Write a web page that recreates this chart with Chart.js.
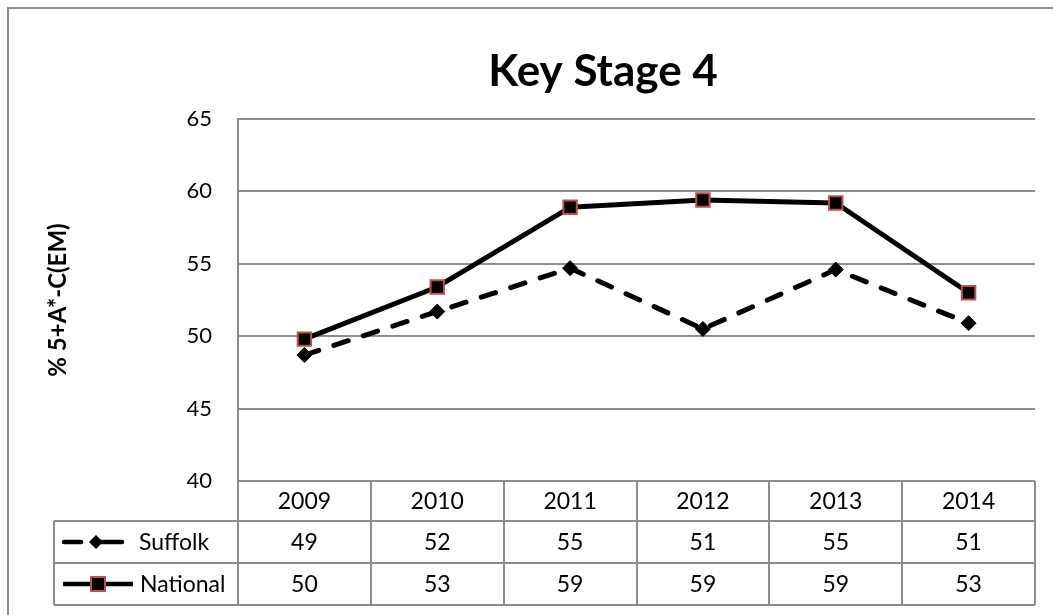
<!DOCTYPE html>
<html><head><meta charset="utf-8">
<script src="https://cdn.jsdelivr.net/npm/chart.js@4/dist/chart.umd.min.js"></script>
<style>html,body{margin:0;padding:0;background:#fff;overflow:hidden}#wrap{width:1053px;height:615px;position:relative}</style>
</head><body><div id="wrap"><canvas id="c" width="1053" height="615"></canvas></div>
<script>
const categories = ['2009', '2010', '2011', '2012', '2013', '2014'];
const suffolkValues = [48.7, 51.7, 54.7, 50.5, 54.6, 50.9];
const nationalValues = [49.8, 53.4, 58.9, 59.4, 59.2, 53.0];
const suffolkTable = [49, 52, 55, 51, 55, 51];
const nationalTable = [50, 53, 59, 59, 59, 53];
const seriesNames = ['Suffolk', 'National'];
const yTicks = [40, 45, 50, 55, 60, 65];
const chartTitle = 'Key Stage 4';
const yAxisTitle = '% 5+A*-C(EM)';

const FONT = 'Lato, "Open Sans", sans-serif';
const GRID = '#8c8c8c';
const RED = '#c0504d';

const framePlugin = {
  id: 'framePlugin',
  beforeDraw(chart) {
    const ctx = chart.ctx;
    ctx.save();
    ctx.fillStyle = '#fff';
    ctx.fillRect(0, 0, chart.width, chart.height);
    ctx.strokeStyle = GRID;
    ctx.lineWidth = 2;
    ctx.beginPath();
    ctx.moveTo(8, chart.height);
    ctx.lineTo(8, 8);
    ctx.lineTo(chart.width, 8);
    ctx.stroke();
    ctx.fillStyle = '#000';
    ctx.font = 'bold 44px ' + FONT;
    ctx.textAlign = 'center';
    ctx.textBaseline = 'alphabetic';
    ctx.fillText(chartTitle, 603, 86);
    ctx.restore();
  },
  afterDraw(chart) {
    const ctx = chart.ctx;
    const a = chart.chartArea;
    const xs = chart.scales.x;
    const n = categories.length;
    const colW = (a.right - a.left) / n;
    const rows = [a.bottom, 521, 563, 605];
    const tableLeft = 54;
    ctx.save();
    ctx.strokeStyle = GRID;
    ctx.lineWidth = 2;
    ctx.beginPath();
    ctx.moveTo(a.left, rows[0]); ctx.lineTo(a.right, rows[0]);
    for (let r = 1; r < rows.length; r++) { ctx.moveTo(tableLeft, rows[r]); ctx.lineTo(a.right, rows[r]); }
    ctx.moveTo(tableLeft, rows[1]); ctx.lineTo(tableLeft, rows[3]);
    for (let i = 0; i <= n; i++) {
      const x = Math.round(a.left + i * colW);
      ctx.moveTo(x, rows[0]); ctx.lineTo(x, rows[3]);
    }
    ctx.stroke();

    ctx.fillStyle = '#000';
    ctx.font = '23px ' + FONT;
    ctx.textAlign = 'center';
    ctx.textBaseline = 'middle';
    categories.forEach((c, i) => {
      const x = xs.getPixelForValue(i);
      ctx.fillText(c, x, (rows[0] + rows[1]) / 2 + 1);
      ctx.fillText(String(suffolkTable[i]), x, (rows[1] + rows[2]) / 2 + 1);
      ctx.fillText(String(nationalTable[i]), x, (rows[2] + rows[3]) / 2 + 1);
    });

    // legend keys
    const y1 = (rows[1] + rows[2]) / 2;
    const y2 = (rows[2] + rows[3]) / 2;
    ctx.strokeStyle = '#000';
    ctx.lineWidth = 4.5;
    ctx.lineCap = 'round';
    ctx.beginPath();
    ctx.moveTo(64, y1); ctx.lineTo(81, y1);
    ctx.moveTo(100, y1); ctx.lineTo(122, y1);
    ctx.stroke();
    ctx.fillStyle = '#000';
    ctx.beginPath();
    ctx.moveTo(96, y1 - 7); ctx.lineTo(103, y1); ctx.lineTo(96, y1 + 7); ctx.lineTo(89, y1); ctx.closePath();
    ctx.fill();
    ctx.lineCap = 'butt';
    ctx.beginPath();
    ctx.moveTo(63, y2); ctx.lineTo(133, y2);
    ctx.stroke();
    ctx.fillStyle = '#000';
    ctx.fillRect(91, y2 - 7, 14, 14);
    ctx.strokeStyle = RED;
    ctx.lineWidth = 2;
    ctx.strokeRect(91, y2 - 7, 14, 14);

    ctx.fillStyle = '#000';
    ctx.textAlign = 'left';
    ctx.fillText(seriesNames[0], 139, y1 + 1);
    ctx.fillText(seriesNames[1], 140, y2 + 1);
    ctx.restore();
  }
};

new Chart(document.getElementById('c'), {
  type: 'line',
  data: {
    labels: categories,
    datasets: [
      {
        label: seriesNames[0],
        data: suffolkValues,
        borderColor: '#000',
        backgroundColor: '#000',
        borderWidth: 5,
        borderDash: [15, 16],
        borderCapStyle: 'round',
        borderJoinStyle: 'round',
        pointStyle: 'rectRot',
        pointRadius: 7.5,
        pointBorderWidth: 1,
        pointBackgroundColor: '#000',
        pointBorderColor: '#000',
        tension: 0,
        fill: false
      },
      {
        label: seriesNames[1],
        data: nationalValues,
        borderColor: '#000',
        backgroundColor: '#000',
        borderWidth: 5,
        borderJoinStyle: 'round',
        pointStyle: 'rect',
        pointRadius: 9.5,
        pointBorderWidth: 2,
        pointBackgroundColor: '#000',
        pointBorderColor: RED,
        tension: 0,
        fill: false
      }
    ]
  },
  options: {
    responsive: false,
    animation: false,
    devicePixelRatio: 1,
    layout: { padding: { top: 119, bottom: 134, left: 0, right: 18 } },
    plugins: {
      legend: { display: false },
      title: { display: false },
      tooltip: { enabled: false }
    },
    scales: {
      x: { type: 'category', display: false, offset: true },
      y: {
        min: yTicks[0],
        max: yTicks[yTicks.length - 1],
        afterFit(scale) { scale.width = 238; },
        ticks: {
          stepSize: yTicks[1] - yTicks[0],
          color: '#000',
          padding: 26,
          font: { family: FONT, size: 22 }
        },
        grid: { color: GRID, lineWidth: 2, drawTicks: false },
        border: { display: true, color: GRID, width: 2 },
        title: {
          display: true,
          text: yAxisTitle,
          color: '#000',
          font: { family: FONT, size: 24, weight: 'bold' },
          padding: { top: 44, bottom: 0 }
        }
      }
    }
  },
  plugins: [framePlugin]
});
</script>
</body></html>
